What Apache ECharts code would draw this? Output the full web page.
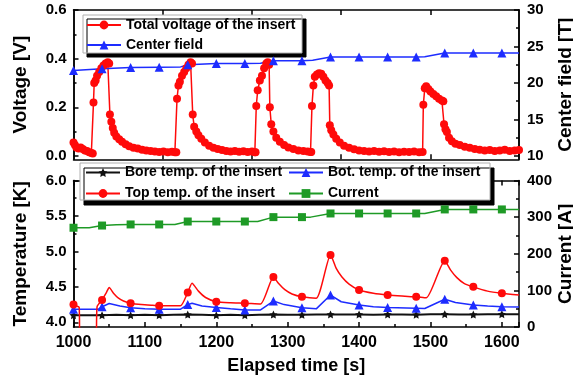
<!DOCTYPE html>
<html>
<head>
<meta charset="utf-8">
<script src="https://cdn.jsdelivr.net/npm/echarts@6/dist/echarts.min.js"></script>
<style>
html, body { margin: 0; padding: 0; background: #fff; }
#chart { width: 573px; height: 386px; }
</style>
</head>
<body>
<div id="chart"></div>
<script>
// ---- data: [time s, value] ----
var voltage = [
  [1000,0.055],[1002,0.045],[1004,0.035],[1007,0.03],[1010,0.035],[1013,0.028],[1016,0.022],[1019,0.02],[1022,0.015],[1025,0.012],[1027,0.01],
  [1028,0.22],[1029,0.30],[1031,0.31],[1033,0.33],[1036,0.345],[1039,0.36],[1042,0.372],[1045,0.38],[1048,0.385],
  [1050,0.38],[1051,0.17],[1053,0.14],[1055,0.115],[1057,0.095],[1060,0.08],[1064,0.068],[1068,0.058],[1073,0.048],[1078,0.04],[1084,0.034],[1090,0.03],[1096,0.025],[1102,0.022],[1108,0.02],[1114,0.018],[1120,0.016],[1126,0.018],[1132,0.015],[1138,0.017],[1142,0.015],
  [1144,0.015],[1145,0.235],[1147,0.29],[1149,0.305],[1152,0.33],[1155,0.345],[1158,0.36],[1161,0.375],[1164,0.385],
  [1166,0.38],[1167,0.17],[1169,0.12],[1172,0.1],[1175,0.085],[1179,0.07],[1184,0.055],[1190,0.042],[1196,0.034],[1202,0.028],[1208,0.024],[1214,0.02],[1220,0.018],[1226,0.02],[1232,0.017],[1238,0.019],[1244,0.016],[1250,0.018],[1254,0.015],
  [1255,0.015],[1256,0.205],[1258,0.27],[1261,0.31],[1264,0.33],[1267,0.36],[1270,0.38],[1272,0.385],
  [1274,0.375],[1275,0.2],[1277,0.13],[1280,0.1],[1284,0.075],[1289,0.058],[1295,0.045],[1301,0.035],[1308,0.028],[1315,0.022],[1322,0.02],[1328,0.018],[1332,0.016],
  [1333,0.016],[1334,0.205],[1336,0.29],[1338,0.325],[1341,0.335],[1344,0.34],[1347,0.338],[1350,0.325],[1353,0.31],[1356,0.30],
  [1358,0.29],[1359,0.126],[1361,0.105],[1364,0.088],[1368,0.07],[1373,0.055],[1379,0.042],[1386,0.033],[1393,0.027],[1400,0.022],[1407,0.02],[1414,0.018],[1421,0.02],[1428,0.017],[1435,0.019],[1442,0.016],[1449,0.018],[1456,0.015],[1463,0.017],[1470,0.016],[1477,0.018],[1484,0.015],[1489,0.016],
  [1490,0.21],[1492,0.278],[1494,0.286],[1497,0.275],[1500,0.265],[1504,0.255],[1508,0.245],[1512,0.235],[1516,0.228],
  [1518,0.225],[1519,0.13],[1521,0.11],[1523,0.098],[1526,0.075],[1530,0.06],[1535,0.05],[1541,0.045],[1548,0.038],[1555,0.033],[1562,0.028],[1569,0.025],[1576,0.022],[1583,0.024],[1590,0.02],[1597,0.022],[1604,0.025],[1611,0.02],[1618,0.022],[1624,0.024]
];
var centerField = [
  [1000,21.7],[1040,21.95],[1080,22.1],[1120,22.15],[1150,22.2],[1160,22.5],[1200,22.65],[1240,22.65],[1262,22.7],[1280,23.05],
  [1320,23.05],[1335,23.1],[1360,23.55],[1400,23.55],[1440,23.55],[1480,23.55],[1492,23.6],[1520,24.1],[1560,24.1],[1600,24.1],[1624,24.1]
];
var boreTemp = [
  [1000,4.10],[1020,4.10],[1040,4.10],[1060,4.105],[1080,4.10],[1100,4.105],[1120,4.10],[1140,4.105],[1160,4.11],[1180,4.105],
  [1200,4.10],[1220,4.105],[1240,4.10],[1260,4.105],[1280,4.11],[1300,4.105],[1320,4.105],[1340,4.11],[1360,4.112],[1380,4.11],
  [1400,4.112],[1420,4.108],[1440,4.112],[1460,4.112],[1480,4.108],[1500,4.114],[1520,4.115],[1540,4.112],[1560,4.11],[1580,4.114],[1600,4.115],[1624,4.115]
];
var botTemp = [
  [1000,4.185],[1035,4.185],[1040,4.22],[1050,4.265],[1065,4.23],[1080,4.205],[1100,4.19],[1120,4.185],[1150,4.185],[1160,4.25],[1166,4.27],
  [1180,4.23],[1200,4.21],[1220,4.19],[1240,4.175],[1262,4.175],[1280,4.30],[1295,4.25],[1320,4.206],[1340,4.19],[1360,4.385],
  [1375,4.29],[1400,4.244],[1420,4.22],[1440,4.21],[1480,4.20],[1492,4.195],[1520,4.325],[1535,4.28],[1560,4.245],[1580,4.23],[1600,4.22],[1624,4.215]
];
var topTemp = [
  [1000,4.25],[1004,4.23],[1008,4.21],[1009,3.5],[1031,3.5],[1033,4.22],[1040,4.315],[1046,4.42],[1050,4.49],[1056,4.41],[1063,4.34],
  [1070,4.30],[1080,4.27],[1095,4.25],[1110,4.24],[1120,4.235],[1135,4.235],[1150,4.235],[1160,4.42],[1166,4.55],[1175,4.44],[1185,4.35],
  [1200,4.29],[1220,4.275],[1240,4.27],[1262,4.26],[1280,4.64],[1287,4.55],[1296,4.46],[1306,4.40],[1320,4.36],[1340,4.34],[1360,4.95],
  [1368,4.76],[1376,4.64],[1386,4.54],[1400,4.456],[1420,4.41],[1440,4.385],[1460,4.37],[1480,4.36],[1494,4.345],[1520,4.87],
  [1528,4.74],[1537,4.63],[1547,4.55],[1560,4.50],[1580,4.44],[1600,4.41],[1624,4.385]
];
var current = [
  [1000,271],[1022,271],[1040,277],[1060,279],[1080,280],[1120,280],[1142,280],[1160,288],[1200,288],[1240,288],[1258,288],[1280,300],
  [1320,300],[1332,300],[1360,310],[1400,310],[1440,310],[1480,310],[1492,310],[1520,321],[1560,321],[1600,321],[1624,321]
];
var voltTicks = [0, 0.2, 0.4, 0.6];
var voltMinor = [0.1, 0.3, 0.5];
var fieldTicks = [10, 15, 20, 25, 30];
var fieldMinor = [12.5, 17.5, 22.5, 27.5];
var tempTicks = [4.0, 4.5, 5.0, 5.5, 6.0];
var tempMinor = [4.25, 4.75, 5.25, 5.75];
var topTimeTicks = [1125, 1250, 1375, 1500];

var FONT = 'Liberation Sans, Arial, sans-serif';
var RED = '#ff0a0a', BLUE = '#1d2cff', GREEN = '#1e9a26', BLACK = '#111';
var STAR = 'path://M0,-10L2.9,-4L9.5,-3.1L4.8,1.5L5.9,8.1L0,5L-5.9,8.1L-4.8,1.5L-9.5,-3.1L-2.9,-4Z';

// marker only every 40 s
function marked(pts) {
  return pts.map(function (p) {
    return p[0] % 40 === 0 ? p : { value: p, symbol: 'none' };
  });
}

var axisLine = { show: true, onZero: false, lineStyle: { color: '#000', width: 1.5 } };
var labelStyle = { color: '#000', fontFamily: FONT, fontWeight: 'bold', fontSize: 15 };
var nameStyle = { color: '#000', fontFamily: FONT, fontWeight: 'bold', fontSize: 19 };

function timeAxis(grid, pos, opts) {
  var a = {
    type: 'value', gridIndex: grid, position: pos, min: 1000, max: 1624,
    axisLine: axisLine, splitLine: { show: false },
    axisTick: { inside: true, length: 5, lineStyle: { color: '#000', width: 1.5 } },
    axisLabel: { show: false }
  };
  return Object.assign(a, opts || {});
}

function valAxis(grid, pos, min, max, ticks, labels, extra) {
  var a = {
    type: 'value', gridIndex: grid, position: pos, min: min, max: max,
    axisLine: axisLine, splitLine: { show: false },
    axisTick: { inside: true, length: labels ? 5 : 3, customValues: ticks, lineStyle: { color: '#000', width: 1.5 } },
    axisLabel: labels ? Object.assign({ customValues: ticks, margin: pos === 'left' ? 7 : 8 }, labelStyle, labels) : { show: false }
  };
  return Object.assign(a, extra || {});
}

var chart = echarts.init(document.getElementById('chart'));
chart.setOption({
  backgroundColor: '#fff',
  animation: false,
  grid: [
    { left: 73.5, right: 54, top: 10, height: 149.3, outerBoundsMode: 'none' },
    { left: 73.5, right: 54, top: 180.5, height: 146.5, outerBoundsMode: 'none' }
  ],
  xAxis: [
    timeAxis(0, 'bottom', { axisTick: { inside: true, length: 5, customValues: topTimeTicks, lineStyle: { color: '#000', width: 1.5 } } }),
    timeAxis(0, 'top', { axisTick: { inside: true, length: 5, customValues: topTimeTicks, lineStyle: { color: '#000', width: 1.5 } } }),
    timeAxis(1, 'bottom', {
      interval: 100,
      minorTick: { show: true, splitNumber: 2, length: 3, lineStyle: { color: '#000', width: 1.5 } },
      axisLabel: Object.assign({ show: true, margin: 8, formatter: function (v) { return String(v); } }, labelStyle, { fontSize: 16 }),
      name: 'Elapsed time [s]', nameLocation: 'middle', nameGap: 30,
      nameTextStyle: Object.assign({}, nameStyle, { fontSize: 18 })
    }),
    timeAxis(1, 'top', {
      interval: 100,
      minorTick: { show: true, splitNumber: 2, length: 3, lineStyle: { color: '#000', width: 1.5 } }
    })
  ],
  yAxis: [
    valAxis(0, 'left', -0.014, 0.6, voltTicks, { formatter: function (v) { return v.toFixed(1); } },
      { name: 'Voltage [V]', nameLocation: 'middle', nameRotate: 90, nameGap: 43, nameTextStyle: nameStyle }),
    valAxis(0, 'left', -0.014, 0.6, voltMinor, null),
    valAxis(0, 'right', 9.53, 30, fieldTicks, {},
      { name: 'Center field [T]', nameLocation: 'middle', nameRotate: 90, nameGap: 37, nameMoveOverlap: false, nameTextStyle: nameStyle }),
    valAxis(0, 'right', 9.53, 30, fieldMinor, null),
    valAxis(1, 'left', 3.934, 6.0, tempTicks, { formatter: function (v) { return v.toFixed(1); } },
      { name: 'Temperature [K]', nameLocation: 'middle', nameRotate: 90, nameGap: 43, nameTextStyle: nameStyle }),
    valAxis(1, 'left', 3.934, 6.0, tempMinor, null),
    {
      type: 'value', gridIndex: 1, position: 'right', min: 0, max: 400, interval: 100,
      axisLine: axisLine, splitLine: { show: false },
      axisTick: { inside: true, length: 5, lineStyle: { color: '#000', width: 1.5 } },
      minorTick: { show: true, splitNumber: 2, length: 3, lineStyle: { color: '#000', width: 1.5 } },
      axisLabel: Object.assign({ margin: 8 }, labelStyle),
      name: 'Current [A]', nameLocation: 'middle', nameRotate: 90, nameGap: 37, nameMoveOverlap: false, nameTextStyle: nameStyle
    }
  ],
  graphic: [
    { type: 'rect', z: 3, shape: { x: 83, y: 15, width: 219, height: 38 },
      style: { fill: '#fff', stroke: '#b0b0b0', lineWidth: 1, shadowColor: '#000', shadowBlur: 0, shadowOffsetX: 4, shadowOffsetY: 4 } },
    { type: 'rect', z: 3, shape: { x: 80, y: 163, width: 410, height: 37 },
      style: { fill: '#fff', stroke: '#b0b0b0', lineWidth: 1, shadowColor: '#000', shadowBlur: 0, shadowOffsetX: 4, shadowOffsetY: 5 } }
  ],
  legend: [
    { data: ['Total voltage of the insert', 'Center field'], orient: 'vertical', left: 86, top: 18, z: 6,
      itemWidth: 34, itemHeight: 11, itemGap: 6, padding: 0,
      textStyle: { color: '#000', fontFamily: FONT, fontWeight: 'bold', fontSize: 14 } },
    { data: ['Bore temp. of the insert', 'Top temp. of the insert'], orient: 'vertical', left: 85, top: 165.5, z: 6,
      itemWidth: 34, itemHeight: 11, itemGap: 7, padding: 0,
      textStyle: { color: '#000', fontFamily: FONT, fontWeight: 'bold', fontSize: 14 } },
    { data: ['Bot. temp. of the insert', 'Current'], orient: 'vertical', left: 288, top: 165.5, z: 6,
      itemWidth: 34, itemHeight: 11, itemGap: 7, padding: 0,
      textStyle: { color: '#000', fontFamily: FONT, fontWeight: 'bold', fontSize: 14 } }
  ],
  series: [
    { name: 'Total voltage of the insert', type: 'line', xAxisIndex: 0, yAxisIndex: 0, data: voltage,
      symbol: 'circle', symbolSize: 8, showAllSymbol: true, color: RED, lineStyle: { width: 1.5, color: RED } },
    { name: 'Center field', type: 'line', xAxisIndex: 0, yAxisIndex: 2, data: marked(centerField),
      symbol: 'triangle', symbolSize: 9, showAllSymbol: true, color: BLUE, lineStyle: { width: 1.5, color: BLUE } },
    { name: 'Bore temp. of the insert', type: 'line', xAxisIndex: 2, yAxisIndex: 4, data: marked(boreTemp),
      symbol: STAR, symbolSize: 8, showAllSymbol: true, color: BLACK, lineStyle: { width: 2, color: BLACK } },
    { name: 'Bot. temp. of the insert', type: 'line', xAxisIndex: 2, yAxisIndex: 4, data: marked(botTemp),
      symbol: 'triangle', symbolSize: 9, showAllSymbol: true, color: BLUE, lineStyle: { width: 1.5, color: BLUE } },
    { name: 'Top temp. of the insert', type: 'line', xAxisIndex: 2, yAxisIndex: 4, data: marked(topTemp),
      symbol: 'circle', symbolSize: 8, showAllSymbol: true, smooth: 0.2, color: RED, lineStyle: { width: 1.5, color: RED } },
    { name: 'Current', type: 'line', xAxisIndex: 2, yAxisIndex: 6, data: marked(current),
      symbol: 'rect', symbolSize: 8, showAllSymbol: true, color: GREEN, lineStyle: { width: 1.5, color: GREEN } }
  ]
});
</script>
</body>
</html>
